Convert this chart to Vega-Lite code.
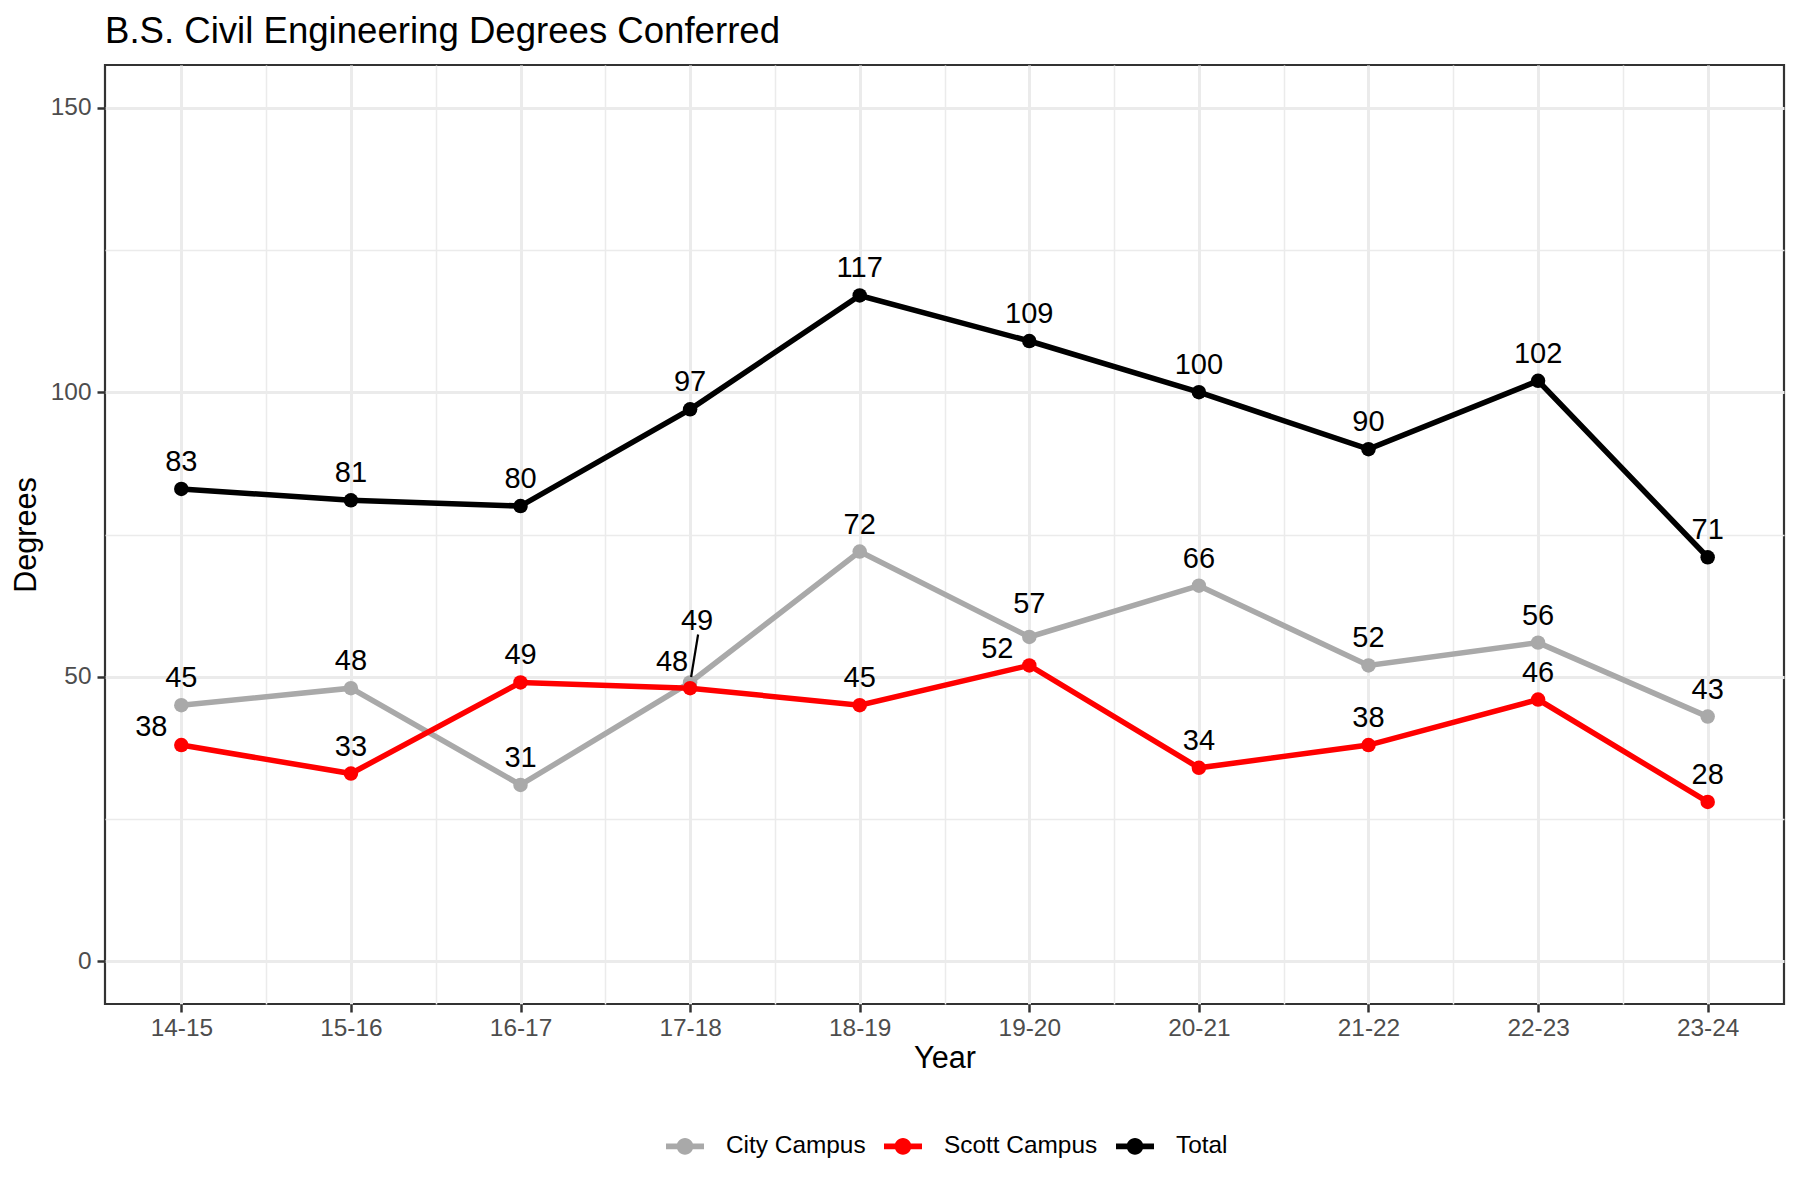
{
  "$schema": "https://vega.github.io/schema/vega-lite/v6.json",
  "width": 1679,
  "height": 939,
  "autosize": {"type": "none"},
  "padding": {"left": 105, "top": 65, "right": 16, "bottom": 196},
  "background": "white",
  "config": {
    "font": "Liberation Sans",
    "view": {"stroke": "#333333", "strokeWidth": 2.2},
    "axis": {
      "domain": false,
      "gridColor": "#EBEBEB",
      "tickColor": "#333333",
      "tickWidth": 2.5,
      "tickSize": 8,
      "labelColor": "#4D4D4D",
      "labelFontSize": 24.4,
      "labelOverlap": false,
      "labelFlush": false,
      "titleFontSize": 30.6,
      "titleFontWeight": "normal",
      "titleColor": "black"
    }
  },
  "title": {
    "text": "B.S. Civil Engineering Degrees Conferred",
    "anchor": "start",
    "frame": "group",
    "fontSize": 36.6,
    "fontWeight": "normal",
    "color": "black",
    "baseline": "alphabetic",
    "offset": 23,
    "dy": 38
  },
  "data": {
    "values": [
      {"year": "14-15", "start": 2014, "campus": "City Campus", "degrees": 45},
      {"year": "15-16", "start": 2015, "campus": "City Campus", "degrees": 48},
      {"year": "16-17", "start": 2016, "campus": "City Campus", "degrees": 31},
      {"year": "17-18", "start": 2017, "campus": "City Campus", "degrees": 49},
      {"year": "18-19", "start": 2018, "campus": "City Campus", "degrees": 72},
      {"year": "19-20", "start": 2019, "campus": "City Campus", "degrees": 57},
      {"year": "20-21", "start": 2020, "campus": "City Campus", "degrees": 66},
      {"year": "21-22", "start": 2021, "campus": "City Campus", "degrees": 52},
      {"year": "22-23", "start": 2022, "campus": "City Campus", "degrees": 56},
      {"year": "23-24", "start": 2023, "campus": "City Campus", "degrees": 43},
      {"year": "14-15", "start": 2014, "campus": "Scott Campus", "degrees": 38},
      {"year": "15-16", "start": 2015, "campus": "Scott Campus", "degrees": 33},
      {"year": "16-17", "start": 2016, "campus": "Scott Campus", "degrees": 49},
      {"year": "17-18", "start": 2017, "campus": "Scott Campus", "degrees": 48},
      {"year": "18-19", "start": 2018, "campus": "Scott Campus", "degrees": 45},
      {"year": "19-20", "start": 2019, "campus": "Scott Campus", "degrees": 52},
      {"year": "20-21", "start": 2020, "campus": "Scott Campus", "degrees": 34},
      {"year": "21-22", "start": 2021, "campus": "Scott Campus", "degrees": 38},
      {"year": "22-23", "start": 2022, "campus": "Scott Campus", "degrees": 46},
      {"year": "23-24", "start": 2023, "campus": "Scott Campus", "degrees": 28},
      {"year": "14-15", "start": 2014, "campus": "Total", "degrees": 83},
      {"year": "15-16", "start": 2015, "campus": "Total", "degrees": 81},
      {"year": "16-17", "start": 2016, "campus": "Total", "degrees": 80},
      {"year": "17-18", "start": 2017, "campus": "Total", "degrees": 97},
      {"year": "18-19", "start": 2018, "campus": "Total", "degrees": 117},
      {"year": "19-20", "start": 2019, "campus": "Total", "degrees": 109},
      {"year": "20-21", "start": 2020, "campus": "Total", "degrees": 100},
      {"year": "21-22", "start": 2021, "campus": "Total", "degrees": 90},
      {"year": "22-23", "start": 2022, "campus": "Total", "degrees": 102},
      {"year": "23-24", "start": 2023, "campus": "Total", "degrees": 71}
    ]
  },
  "encoding": {
    "x": {
      "field": "start",
      "type": "quantitative",
      "scale": {"domain": [2013.55, 2023.45], "nice": false, "zero": false},
      "axis": {
        "title": "Year",
        "values": [2014, 2014.5, 2015, 2015.5, 2016, 2016.5, 2017, 2017.5, 2018, 2018.5, 2019, 2019.5, 2020, 2020.5, 2021, 2021.5, 2022, 2022.5, 2023],
        "labelExpr": "datum.value % 1 == 0 ? slice(toString(datum.value), 2) + '-' + slice(toString(datum.value + 1), 2) : ''",
        "gridWidth": {"condition": {"test": "datum.value % 1 != 0", "value": 1.5}, "value": 3},
        "tickOpacity": {"condition": {"test": "datum.value % 1 != 0", "value": 0}, "value": 1},
        "labelPadding": 4,
        "titleX": 839.5,
        "titleY": 54,
        "titleBaseline": "middle",
        "titleAlign": "center"
      }
    },
    "y": {
      "field": "degrees",
      "type": "quantitative",
      "scale": {"domain": [-7.5, 157.5], "nice": false, "zero": false},
      "axis": {
        "title": "Degrees",
        "values": [0, 25, 50, 75, 100, 125, 150],
        "labelExpr": "datum.value % 50 == 0 ? datum.label : ''",
        "gridWidth": {"condition": {"test": "datum.value % 50 != 0", "value": 1.5}, "value": 3},
        "tickOpacity": {"condition": {"test": "datum.value % 50 != 0", "value": 0}, "value": 1},
        "labelPadding": 6,
        "titleX": -79,
        "titleY": 469.5,
        "titleAngle": -90,
        "titleBaseline": "middle",
        "titleAlign": "center"
      }
    },
    "color": {
      "field": "campus",
      "type": "nominal",
      "scale": {"domain": ["City Campus", "Scott Campus", "Total"], "range": ["#A9A9A9", "#FF0000", "#000000"]},
      "legend": {
        "title": null,
        "orient": "none",
        "direction": "horizontal",
        "legendX": 561,
        "legendY": 1062,
        "padding": 0,
        "symbolType": "M-1,-0.15H1V0.15H-1Z M0.44,0A0.44,0.44 0 1,1 -0.44,0A0.44,0.44 0 1,1 0.44,0Z",
        "symbolSize": 1444,
        "symbolStrokeWidth": 0,
        "labelFontSize": 24.4,
        "labelColor": "black",
        "labelOffset": 22,
        "columnPadding": 18,
        "encode": {
          "symbols": {
            "update": {
              "fill": {"scale": "color", "field": "value"},
              "opacity": {"value": 1},
              "strokeWidth": {"value": 0}
            }
          }
        }
      }
    }
  },
  "layer": [
    {"mark": {"type": "line", "strokeWidth": 5.5}},
    {"mark": {"type": "point", "filled": true, "size": 210, "opacity": 1}},
    {
      "transform": [{"filter": "!((datum.year == '14-15' && datum.campus == 'Scott Campus') || (datum.year == '17-18' && datum.campus != 'Total') || (datum.year == '19-20' && datum.campus != 'Total'))"}],
      "mark": {"type": "text", "dy": -18, "fontSize": 29, "baseline": "alphabetic"},
      "encoding": {"text": {"field": "degrees", "type": "quantitative"}, "color": {"value": "black"}}
    },
    {
      "transform": [{"filter": "datum.year == '14-15' && datum.campus == 'Scott Campus'"}],
      "mark": {"type": "text", "dx": -30, "dy": -9.5, "fontSize": 29, "baseline": "alphabetic"},
      "encoding": {"text": {"field": "degrees", "type": "quantitative"}, "color": {"value": "black"}}
    },
    {
      "transform": [{"filter": "datum.year == '17-18' && datum.campus == 'City Campus'"}],
      "mark": {"type": "text", "dx": 7, "dy": -52, "fontSize": 29, "baseline": "alphabetic"},
      "encoding": {"text": {"field": "degrees", "type": "quantitative"}, "color": {"value": "black"}}
    },
    {
      "transform": [{"filter": "datum.year == '17-18' && datum.campus == 'City Campus'"}],
      "mark": {"type": "rule", "color": "black", "strokeWidth": 2.2, "xOffset": 1, "yOffset": -5.5, "x2Offset": 8, "y2Offset": -48},
      "encoding": {
        "x2": {"field": "start"},
        "y2": {"field": "degrees"},
        "color": {"value": "black"}
      }
    },
    {
      "transform": [{"filter": "datum.year == '17-18' && datum.campus == 'Scott Campus'"}],
      "mark": {"type": "text", "dx": -18, "dy": -17.5, "fontSize": 29, "baseline": "alphabetic"},
      "encoding": {"text": {"field": "degrees", "type": "quantitative"}, "color": {"value": "black"}}
    },
    {
      "transform": [{"filter": "datum.year == '19-20' && datum.campus == 'City Campus'"}],
      "mark": {"type": "text", "dy": -23.5, "fontSize": 29, "baseline": "alphabetic"},
      "encoding": {"text": {"field": "degrees", "type": "quantitative"}, "color": {"value": "black"}}
    },
    {
      "transform": [{"filter": "datum.year == '19-20' && datum.campus == 'Scott Campus'"}],
      "mark": {"type": "text", "dx": -32, "dy": -7, "fontSize": 29, "baseline": "alphabetic"},
      "encoding": {"text": {"field": "degrees", "type": "quantitative"}, "color": {"value": "black"}}
    }
  ]
}
